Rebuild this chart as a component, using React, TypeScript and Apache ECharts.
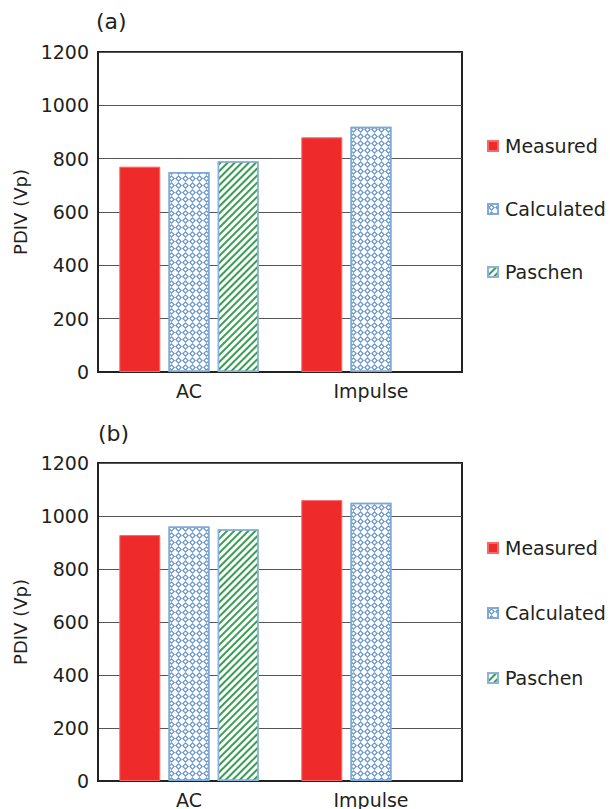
import React, { useEffect, useRef } from "react";
import * as echarts from "echarts";

const categories = ["AC", "Impulse"];
const seriesNames = ["Measured", "Calculated", "Paschen"];
const measuredA = [770, 880];
const calculatedA = [750, 920];
const paschenA = [790, null];
const measuredB = [928, 1060];
const calculatedB = [960, 1050];
const paschenB = [950, null];
const panelLabels = ["(a)", "(b)"];
const yAxisName = "PDIV (Vp)";

const FONT = "DejaVu Sans";
const TXT = "#231f20";

const calcDecal = {
  symbol: "path://M5,0L10,5L5,10L0,5Z M5,2.6L2.6,5L5,7.4L7.4,5Z",
  symbolSize: 1,
  symbolKeepAspect: true,
  dashArrayX: [7, 0],
  dashArrayY: [7, 0],
  color: "#6a95cc",
  rotation: 0,
};
const paschenDecal = {
  symbol: "rect",
  symbolSize: 1,
  dashArrayX: [1, 0],
  dashArrayY: [1.6, 2.6],
  color: "#3a9e52",
  rotation: -Math.PI / 4,
};

function seriesFor(gridIdx: number, m: any[], c: any[], p: any[]) {
  return [
    {
      name: seriesNames[0],
      type: "bar",
      xAxisIndex: gridIdx,
      yAxisIndex: gridIdx,
      data: m,
      barWidth: 41,
      barGap: "20%",
      itemStyle: { color: "#ee2a2a", borderColor: "#f26a6a", borderWidth: 1 },
    },
    {
      name: seriesNames[1],
      type: "bar",
      xAxisIndex: gridIdx,
      yAxisIndex: gridIdx,
      data: c,
      barWidth: 41,
      barGap: "20%",
      itemStyle: { color: "#ffffff", borderColor: "#7fa9d6", borderWidth: 1.5, decal: calcDecal },
    },
    {
      name: seriesNames[2],
      type: "bar",
      xAxisIndex: gridIdx,
      yAxisIndex: gridIdx,
      data: p,
      barWidth: 41,
      barGap: "20%",
      itemStyle: { color: "#ffffff", borderColor: "#8cb3da", borderWidth: 1.5, decal: paschenDecal },
    },
  ];
}

function xAxisFor(gridIdx: number) {
  return {
    type: "category",
    gridIndex: gridIdx,
    data: categories,
    axisTick: { show: false },
    axisLine: { show: true, lineStyle: { color: "#222", width: 2 } },
    axisLabel: { fontFamily: FONT, fontSize: 19, color: TXT, margin: 9 },
  };
}

function yAxisFor(gridIdx: number) {
  return {
    type: "value",
    gridIndex: gridIdx,
    min: 0,
    max: 1200,
    interval: 200,
    name: yAxisName,
    nameLocation: "middle",
    nameGap: 67,
    nameTextStyle: { fontFamily: FONT, fontSize: 18, color: TXT },
    axisLine: { show: true, lineStyle: { color: "#222", width: 2 } },
    axisTick: { show: false },
    axisLabel: {
      fontFamily: FONT,
      fontSize: 19,
      color: TXT,
      margin: 9,
      formatter: (v: number) => String(v),
    },
    splitLine: { show: true, lineStyle: { color: "#555", width: 1 } },
  };
}

function legendFor(top: number, gap: number) {
  return {
    orient: "vertical",
    left: 482,
    top,
    itemWidth: 10,
    itemHeight: 10,
    itemGap: gap,
    icon: "rect",
    selectedMode: false,
    data: seriesNames,
    textStyle: { fontFamily: FONT, fontSize: 19, color: TXT, lineHeight: 20, padding: [0, 0, 0, 2] },
  };
}

export default function App() {
  const ref = useRef<HTMLDivElement>(null);
  useEffect(() => {
    if (!ref.current) return;
    const chart = echarts.init(ref.current, null, { renderer: "svg" });
    chart.setOption({
      animation: false,
      backgroundColor: "#ffffff",
      grid: [
        { left: 98, top: 52, width: 364, height: 320, show: true, borderColor: "#222", borderWidth: 2, backgroundColor: "transparent" },
        { left: 98, top: 463, width: 364, height: 319, show: true, borderColor: "#222", borderWidth: 2, backgroundColor: "transparent" },
      ],
      xAxis: [xAxisFor(0), xAxisFor(1)],
      yAxis: [yAxisFor(0), yAxisFor(1)],
      legend: [legendFor(131, 43), legendFor(533, 45)],
      series: [
        ...seriesFor(0, measuredA, calculatedA, paschenA),
        ...seriesFor(1, measuredB, calculatedB, paschenB),
      ],
      graphic: [
        { type: "text", left: 96, top: 10, style: { text: panelLabels[0], font: `22px '${FONT}'`, fill: TXT } },
        { type: "text", left: 98, top: 422, style: { text: panelLabels[1], font: `22px '${FONT}'`, fill: TXT } },
      ],
    });
    return () => chart.dispose();
  }, []);
  return (
    <div
      ref={ref}
      style={{ position: "absolute", left: 0, top: 0, width: 610, height: 809, background: "#fff" }}
    />
  );
}
